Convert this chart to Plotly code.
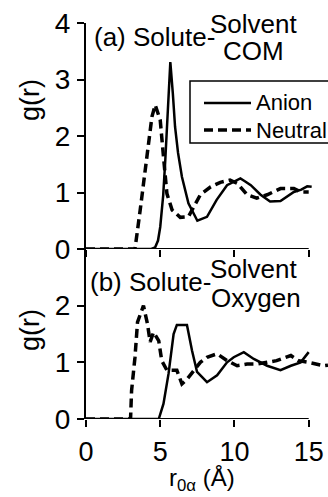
import plotly.graph_objects as go

# ---- data ----
com_anion_x = [0, 4.4, 4.66, 4.85, 5.0, 5.2, 5.34, 5.5, 5.68, 5.85, 6.0, 6.2, 6.46, 6.9, 7.5, 8.15, 8.8, 9.5, 10.0, 10.4, 10.7, 11.1, 11.76, 12.4, 13.1, 14.0, 14.5, 14.9, 15.2]
com_anion_y = [0, 0, 0.03, 0.15, 0.39, 0.95, 1.57, 2.45, 3.31, 2.75, 2.16, 1.7, 1.28, 0.81, 0.5, 0.57, 0.87, 1.13, 1.2, 1.25, 1.2, 1.13, 0.96, 0.84, 0.85, 1.01, 1.05, 1.11, 1.1]

com_neutral_x = [0, 3.3, 3.65, 4.1, 4.44, 4.66, 5.0, 5.22, 5.45, 5.8, 6.35, 6.9, 7.25, 7.7, 8.4, 9.05, 9.7, 10.2, 10.85, 11.5, 12.2, 13.1, 14.0, 14.46, 15.0]
com_neutral_y = [0, 0, 0.69, 1.57, 2.34, 2.55, 2.28, 1.63, 0.98, 0.69, 0.56, 0.57, 0.75, 0.96, 1.1, 1.18, 1.22, 1.16, 0.96, 0.9, 0.96, 1.07, 1.07, 1.01, 1.01]

oxy_anion_x = [0, 4.9, 5.22, 5.56, 5.9, 6.12, 6.8, 7.14, 7.48, 8.15, 8.83, 9.5, 9.95, 10.63, 11.3, 12.2, 13.1, 13.8, 14.46, 15.0]
oxy_anion_y = [0, 0, 0.27, 0.8, 1.5, 1.66, 1.66, 1.21, 0.83, 0.65, 0.77, 1.0, 1.09, 1.18, 1.06, 0.94, 0.86, 0.94, 1.0, 1.18]

oxy_neutral_x = [0, 3.0, 3.07, 3.3, 3.47, 3.87, 4.14, 4.32, 4.55, 4.9, 5.1, 5.45, 6.12, 6.46, 6.8, 7.25, 7.7, 8.15, 8.83, 9.5, 10.18, 10.85, 11.5, 12.2, 12.84, 13.8, 14.3, 15.0, 16.0, 16.3]
oxy_neutral_y = [0, 0, 0.5, 1.09, 1.71, 2.0, 1.68, 1.36, 1.53, 1.38, 1.03, 0.86, 0.86, 0.62, 0.7, 0.86, 1.0, 1.09, 1.15, 1.03, 0.94, 0.97, 0.97, 1.0, 1.03, 1.12, 1.03, 1.0, 0.94, 0.95]

x_ticks = [0, 5, 10, 15]
top_y_ticks = [0, 1, 2, 3, 4]
bottom_y_ticks = [0, 1, 2]
series_names = ["Anion", "Neutral"]

FONT = "Liberation Sans, Arial, sans-serif"
SOLID = dict(color="black", width=2.5)
DASH = dict(color="black", width=3.5, dash="9px,5px")

# pixel geometry helpers (layout only)
W, H = 328, 497
ML, MR, MT, MB = 86, 0, 23, 78
PW, PH = W - ML - MR, H - MT - MB


def px(xp):
    return (xp - ML) / PW


def py(yp):
    return 1 - (yp - MT) / PH


fig = go.Figure()
fig.add_trace(go.Scatter(x=com_anion_x, y=com_anion_y, mode="lines", line=SOLID,
                         name=series_names[0], showlegend=False, xaxis="x2", yaxis="y2"))
fig.add_trace(go.Scatter(x=com_neutral_x, y=com_neutral_y, mode="lines", line=DASH,
                         name=series_names[1], showlegend=False, xaxis="x2", yaxis="y2"))
fig.add_trace(go.Scatter(x=oxy_anion_x, y=oxy_anion_y, mode="lines", line=SOLID,
                         name=series_names[0], showlegend=False, xaxis="x", yaxis="y"))
fig.add_trace(go.Scatter(x=oxy_neutral_x, y=oxy_neutral_y, mode="lines", line=DASH,
                         name=series_names[1], showlegend=False, xaxis="x", yaxis="y"))

split = 170 / PH
common_x = dict(range=[0, 16.3], tickvals=x_ticks, ticks="outside", ticklen=7,
                tickwidth=2, tickcolor="black", showline=False, showgrid=False,
                zeroline=False)
common_y = dict(ticks="outside", ticklen=7, tickwidth=2, tickcolor="black",
                showline=True, linewidth=2, linecolor="black", showgrid=False,
                zeroline=False, ticklabelstandoff=1, tickfont=dict(size=28))

fig.update_layout(
    width=W, height=H,
    margin=dict(l=ML, r=MR, t=MT, b=MB),
    paper_bgcolor="white", plot_bgcolor="white",
    font=dict(family=FONT, size=28, color="black"),
    xaxis=dict(**common_x, anchor="y", domain=[0, 1], ticklabelstandoff=2,
               tickfont=dict(size=27)),
    xaxis2=dict(**common_x, anchor="y2", domain=[0, 1], showticklabels=False),
    yaxis=dict(**common_y, anchor="x", domain=[0, split], range=[0, 3],
               tickvals=bottom_y_ticks),
    yaxis2=dict(**common_y, anchor="x2", domain=[split, 1], range=[0, 4],
                tickvals=top_y_ticks),
    showlegend=False,
)

# x-axis baselines ending at 15
fig.add_shape(type="line", xref="x", yref="y", x0=0, x1=15, y0=0, y1=0,
              line=dict(color="black", width=2))
fig.add_shape(type="line", xref="x2", yref="y2", x0=0, x1=15, y0=0, y1=0,
              line=dict(color="black", width=2))

# axis titles
for yc in (100, 330):
    fig.add_annotation(text="g(r)", xref="paper", yref="paper", x=px(30), y=py(yc),
                       textangle=-90, showarrow=False, xanchor="center", yanchor="middle",
                       font=dict(size=27, family=FONT, color="black"))
fig.add_annotation(text="r<sub>0α</sub> (Å)", xref="paper", yref="paper",
                   x=px(202), y=py(497), xanchor="center", yanchor="bottom",
                   showarrow=False, font=dict(size=24, family=FONT, color="black"))

ann = dict(showarrow=False, font=dict(size=26, family=FONT, color="black"))
fig.add_annotation(text="(a) Solute-", xref="x2", yref="y2", x=0.4, y=3.75,
                   xanchor="left", yanchor="middle", **ann)
fig.add_annotation(text="Solvent", xref="x2", yref="y2", x=11.25, y=3.98,
                   xanchor="center", yanchor="middle", **ann)
fig.add_annotation(text="COM", xref="x2", yref="y2", x=11.25, y=3.5,
                   xanchor="center", yanchor="middle", **ann)
fig.add_annotation(text="(b) Solute-", xref="x", yref="y", x=0.15, y=2.41,
                   xanchor="left", yanchor="middle", **ann)
fig.add_annotation(text="Solvent", xref="x", yref="y", x=11.3, y=2.64,
                   xanchor="center", yanchor="middle", **ann)
fig.add_annotation(text="Oxygen", xref="x", yref="y", x=11.45, y=2.14,
                   xanchor="center", yanchor="middle", **ann)

# legend box (manual, matches reference placement)
fig.add_shape(type="rect", xref="paper", yref="paper", x0=px(190), x1=px(340),
              y0=py(143), y1=py(81), line=dict(color="black", width=1.5),
              fillcolor="rgba(0,0,0,0)")
for yc, style, name in ((103, SOLID, series_names[0]), (130, DASH, series_names[1])):
    fig.add_shape(type="line", xref="paper", yref="paper", x0=px(204), x1=px(251),
                  y0=py(yc), y1=py(yc), line=style)
    fig.add_annotation(text=name, xref="paper", yref="paper", x=px(254), y=py(yc),
                       xanchor="left", yanchor="middle", showarrow=False,
                       font=dict(size=22, family=FONT, color="black"))

fig.write_html("out.html")
